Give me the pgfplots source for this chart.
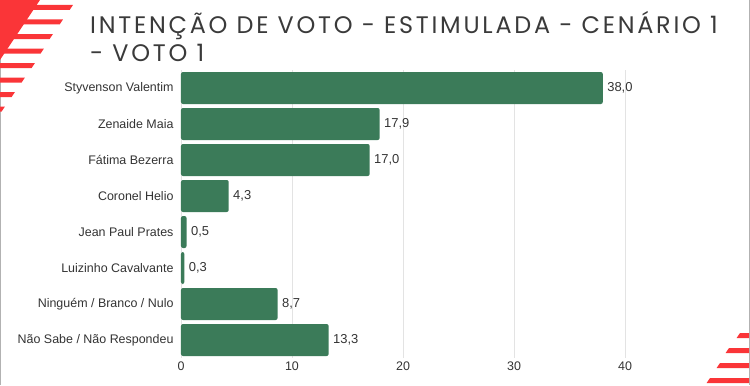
\documentclass[border=0pt]{standalone}
\usepackage{fontspec}
\setmainfont{Liberation Sans}
\newfontfamily\titlefont[LetterSpace=11.5]{Poppins}
\usepackage{pgfplots}
\pgfplotsset{compat=1.18}
\definecolor{bargreen}{HTML}{3B7B59}
\definecolor{txt}{HTML}{333333}
\definecolor{titlegray}{HTML}{3A3A3A}
\definecolor{stripe}{HTML}{FA3538}
\begin{document}
\begin{tikzpicture}
\begin{axis}[
  scale only axis, width=499.5bp, height=288bp,
  xmin=0, xmax=45, ymin=-0.5, ymax=7.5,
  y dir=reverse,
  xbar, bar width=32bp,
  axis line style={draw=none},
  xtick={0,10,20,30,40},
  ytick={0,1,2,3,4,5,6,7},
  yticklabels={Styvenson Valentim, Zenaide Maia, Fátima Bezerra, Coronel Helio, Jean Paul Prates, Luizinho Cavalvante, Ninguém / Branco / Nulo, Não Sabe / Não Respondeu},
  xmajorgrids,
  grid style={draw=gray!22, line width=0.8bp},
  major tick length=0pt,
  ticklabel style={font=\fontsize{12.5}{14}\selectfont, text=txt},
  yticklabel style={xshift=-4bp},
  /pgf/number format/assume math mode=true,
  nodes near coords,
  point meta=x,
  nodes near coords style={font=\fontsize{13}{15}\selectfont, text=txt, anchor=west, xshift=1bp,
    /pgf/number format/.cd, fixed, fixed zerofill, precision=1, use comma},
]
\addplot[fill=bargreen, draw=none, rounded corners=2bp] coordinates {
(38.0,0) (17.9,1) (17.0,2) (4.3,3) (0.5,4) (0.3,5) (8.7,6) (13.3,7)
};
\coordinate (O) at (axis cs:0,7.5);
\end{axis}
\begin{scope}[shift={(O)}, x=1bp, y=1bp]
\begin{scope}[shift={(-181,-27)}]
% frame lines
\draw[gray!60, line width=1bp] (0.5,0) -- (0.5,385);
\draw[gray!60, line width=1bp] (749,0) -- (749,385);
% decorative stripes top-left
\fill[stripe] (0,385) -- (40,385) -- (0,325) -- cycle;
\foreach \t/\r in {5/73,19.5/63,34/53,48.5/44,63/35,77.5/25,92/15,106.5/5}{
  \fill[stripe] (0,385-\t) -- (\r,385-\t) -- (\r-3.4,385-\t-5) -- (0,385-\t-5) -- cycle;
}
% decorative stripes bottom-right
\foreach \t/\l in {333/740,348/729,363/720,378/710}{
  \fill[stripe] (\l,385-\t) -- (749,385-\t) -- (749,385-\t-5) -- (\l-3.4,385-\t-5) -- cycle;
}
% title
\node[anchor=base west, inner sep=0, text=titlegray, font=\titlefont\fontsize{24}{24}\selectfont] at (90,352) {INTENÇÃO DE VOTO - ESTIMULADA - CENÁRIO 1};
\node[anchor=base west, inner sep=0, text=titlegray, font=\titlefont\fontsize{24}{24}\selectfont] at (90,324) {- VOTO 1};
\pgfresetboundingbox
\path (0,0) rectangle (750,385);
\end{scope}
\end{scope}
\end{tikzpicture}
\end{document}
